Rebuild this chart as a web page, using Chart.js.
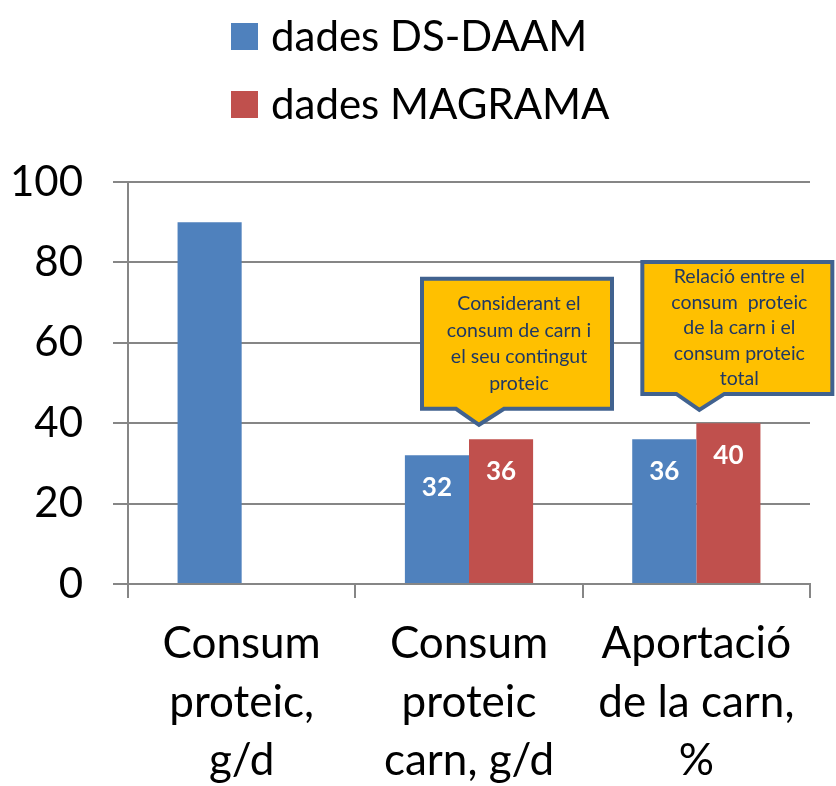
<!DOCTYPE html>
<html>
<head>
<meta charset="utf-8">
<script src="https://cdn.jsdelivr.net/npm/chart.js@4.4.0/dist/chart.umd.min.js"></script>
<style>
  html, body { margin: 0; background: #fff; }
  #wrap { width: 836px; height: 786px; }
</style>
</head>
<body>
<div id="wrap"><canvas id="chart"></canvas></div>
<script>
// data
const categories = [
    ['Consum', 'proteic,', 'g/d'],
    ['Consum', 'proteic', 'carn, g/d'],
    ['Aportació', 'de la carn,', '%'],
];
const seriesNames = ['dades DS-DAAM', 'dades MAGRAMA'];
const dsDaam = [90, 32, 36];
const magrama = [null, 36, 40];
const showValue = [false, true, true];
const yMax = 100;
const yStep = 20;

// callouts pointing at the second and third group
const calloutTexts = [
    ['Considerant el', 'consum de carn i', 'el seu contingut', 'proteic'],
    ['Relació entre el', 'consum  proteic', 'de la carn i el', 'consum proteic', 'total'],
];
const calloutIndex = [1, 2];
const calloutValue = [39.6, 43.3];

const FONT = "Lato, 'Open Sans', sans-serif";
const COLORS = {
    blue: '#4F81BD',
    red: '#C0504D',
    grid: '#868686',
    calloutFill: '#FFC000',
    calloutBorder: '#41628F',
    calloutText: '#1F3864',
};

// legend drawn as a vertical stack above the plot
const stackedLegend = {
    id: 'stackedLegend',
    afterDraw(chart) {
        const ctx = chart.ctx;
        ctx.save();
        ctx.font = `42px ${FONT}`;
        ctx.textBaseline = 'middle';
        const widths = chart.data.datasets.map(d => ctx.measureText(d.label).width);
        const blockW = 27 + 13 + Math.max(...widths);
        const x0 = Math.round(chart.width / 2 - blockW / 2 + 2);
        chart.data.datasets.forEach((d, i) => {
            const cy = 36 + i * 68;
            ctx.fillStyle = d.backgroundColor;
            ctx.fillRect(x0, cy - 13, 27, 27);
            ctx.fillStyle = '#000';
            ctx.fillText(d.label, x0 + 40, cy + 1);
        });
        ctx.restore();
    },
};

// white value labels inside the bars
const valueLabels = {
    id: 'valueLabels',
    afterDatasetsDraw(chart) {
        const ctx = chart.ctx;
        ctx.save();
        ctx.font = `bold 26px ${FONT}`;
        ctx.fillStyle = '#fff';
        ctx.textAlign = 'center';
        ctx.textBaseline = 'middle';
        chart.data.datasets.forEach((d, di) => {
            chart.getDatasetMeta(di).data.forEach((bar, i) => {
                if (!showValue[i] || d.data[i] == null) return;
                ctx.fillText(d.data[i], bar.x, bar.y + 32);
            });
        });
        ctx.restore();
    },
};

// yellow speech-bubble callouts
const callouts = {
    id: 'callouts',
    afterDraw(chart) {
        const ctx = chart.ctx;
        const xs = chart.scales.x, ys = chart.scales.y;
        const tipShift = [10, 3];
        const heights = [130, 132];
        const lineHeights = [26.7, 25.5];
        ctx.save();
        calloutTexts.forEach((lines, k) => {
            const tx = xs.getPixelForValue(calloutIndex[k]) + tipShift[k];
            const ty = ys.getPixelForValue(calloutValue[k]);
            const w = 190;
            const h = heights[k];
            const left = tx - 57;
            const bottom = ty - 16;
            const top = bottom - h;
            ctx.beginPath();
            ctx.moveTo(left, top);
            ctx.lineTo(left + w, top);
            ctx.lineTo(left + w, bottom);
            ctx.lineTo(tx + 25, bottom);
            ctx.lineTo(tx, ty);
            ctx.lineTo(tx - 23, bottom);
            ctx.lineTo(left, bottom);
            ctx.closePath();
            ctx.fillStyle = COLORS.calloutFill;
            ctx.fill();
            ctx.lineWidth = 4;
            ctx.lineJoin = 'miter';
            ctx.strokeStyle = COLORS.calloutBorder;
            ctx.stroke();

            ctx.fillStyle = COLORS.calloutText;
            ctx.font = `19.5px ${FONT}`;
            ctx.textAlign = 'center';
            ctx.textBaseline = 'middle';
            const cx = left + w / 2 + 2;
            const cy = top + h / 2;
            lines.forEach((t, j) => {
                ctx.fillText(t, cx, cy + (j - (lines.length - 1) / 2) * lineHeights[k]);
            });
        });
        ctx.restore();
    },
};

new Chart(document.getElementById('chart'), {
    type: 'bar',
    data: {
        labels: categories,
        datasets: [
            { label: seriesNames[0], data: dsDaam, backgroundColor: COLORS.blue },
            { label: seriesNames[1], data: magrama, backgroundColor: COLORS.red },
        ],
    },
    options: {
        responsive: true,
        maintainAspectRatio: false,
        animation: false,
        categoryPercentage: 0.564,
        barPercentage: 1,
        layout: { padding: { top: 182, left: 11, right: 26, bottom: 0 } },
        plugins: {
            legend: { display: false },
            tooltip: { enabled: false },
        },
        scales: {
            x: {
                afterFit(scale) { scale.height = 202; },
                grid: {
                    offset: true,
                    drawOnChartArea: false,
                    drawTicks: true,
                    tickLength: 14,
                    color: COLORS.grid,
                    lineWidth: 2,
                },
                border: { color: COLORS.grid, width: 2 },
                ticks: {
                    color: '#000',
                    padding: 17,
                    maxRotation: 0,
                    font: { family: FONT, size: 44, lineHeight: 1.33 },
                },
            },
            y: {
                min: 0,
                max: yMax,
                afterFit(scale) { scale.width = 117; },
                ticks: {
                    stepSize: yStep,
                    color: '#000',
                    padding: 30,
                    font: { family: FONT, size: 42 },
                },
                grid: { color: COLORS.grid, lineWidth: 2, tickLength: 15 },
                border: { color: COLORS.grid, width: 2 },
            },
        },
    },
    plugins: [stackedLegend, valueLabels, callouts],
});
</script>
</body>
</html>
